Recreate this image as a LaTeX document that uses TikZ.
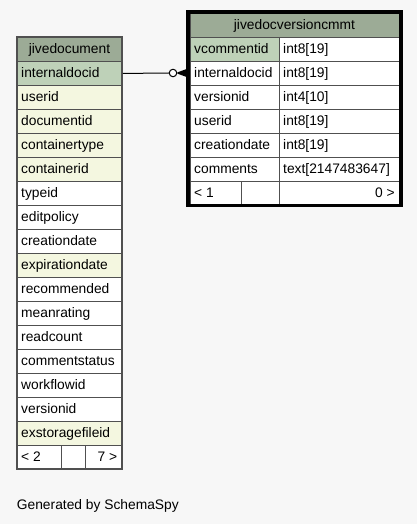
\documentclass[tikz,border=0pt]{standalone}
\usepackage{fontspec}
\setmainfont{Liberation Sans}
\definecolor{bgc}{HTML}{F7F7F7}
\definecolor{hdr}{HTML}{9CAB96}
\definecolor{pkc}{HTML}{BED1B8}
\definecolor{idx}{HTML}{F4F7E0}
\definecolor{bord}{HTML}{505050}
\tikzset{
  cellbox/.style={draw=bord, line width=0.9pt, anchor=north west, inner sep=0pt, minimum height=24pt},
  txt/.style={anchor=base west, inner sep=0pt, font=\fontsize{13.8}{16}\selectfont},
  txtr/.style={anchor=base east, inner sep=0pt, font=\fontsize{13.8}{16}\selectfont},
  txtc/.style={anchor=base, inner sep=0pt, font=\fontsize{13.8}{16}\selectfont},
}
\begin{document}
\begin{tikzpicture}[x=1pt,y=-1pt]
\useasboundingbox (0,0) rectangle (417,524);
\fill[bgc] (0,0) rectangle (417,524);
% ---------- left table: jivedocument ----------
\node[cellbox, fill=hdr, minimum width=105pt] (lh) at (17,37) {};
\node[txtc] (lht) at (69.5,53.3) {jivedocument};
\foreach \name/\col [count=\i from 0] in {internaldocid/pkc, userid/idx, documentid/idx, containertype/idx, containerid/idx, typeid/white, editpolicy/white, creationdate/white, expirationdate/idx, recommended/white, meanrating/white, readcount/white, commentstatus/white, workflowid/white, versionid/white, exstoragefileid/idx}{
  \node[cellbox, fill=\col, minimum width=105pt] (l\i) at (17,61+24*\i) {};
  \node[txt] (lt\i) at (21,77.3+24*\i) {\name};
}
\node[cellbox, fill=white, minimum width=43.5pt] (lf1) at (17,445) {};
\node[cellbox, fill=white, minimum width=24.5pt] (lf2) at (60.5,445) {};
\node[cellbox, fill=white, minimum width=37pt] (lf3) at (85,445) {};
\node[txt] (lft1) at (21,461.3) {< 2};
\node[txtr] (lft3) at (117.5,461.3) {7 >};
\draw[bord, line width=1.2pt] (17,37) rectangle (122,469);
% ---------- right table: jivedocversioncmmt ----------
\node[cellbox, fill=hdr, minimum width=209pt] (rh) at (190,13) {};
\node[txtc] (rht) at (294.5,29.3) {jivedocversioncmmt};
\foreach \name/\typ/\col [count=\i from 0] in {vcommentid/int8[19]/pkc, internaldocid/int8[19]/white, versionid/int4[10]/white, userid/int8[19]/white, creationdate/int8[19]/white, comments/text[2147483647]/white}{
  \node[cellbox, fill=\col, minimum width=89pt] (r\i) at (190,37+24*\i) {};
  \node[cellbox, fill=white, minimum width=120pt] (rt\i) at (279,37+24*\i) {};
  \node[txt] (rn\i) at (194,53.3+24*\i) {\name};
  \node[txt] (ry\i) at (283,53.3+24*\i) {\typ};
}
\node[cellbox, fill=white, minimum width=50.5pt] (rf1) at (190,181) {};
\node[cellbox, fill=white, minimum width=38.5pt] (rf2) at (240.5,181) {};
\node[cellbox, fill=white, minimum width=120pt] (rf3) at (279,181) {};
\node[txt] (rft1) at (194,197.3) {< 1};
\node[txtr] (rft3) at (395,197.3) {0 >};
\draw[black, line width=3.5pt] (188.2,11.8) rectangle (401,205.5);
% ---------- relationship ----------
\coordinate (ca) at (l0.east);
\coordinate (cb) at (187,73);
\node[circle, draw=black, fill=white, line width=1pt, minimum size=7.5pt, inner sep=0pt] (circ) at (173,73) {};
\draw[black, line width=1pt] (ca) -- (circ.west);
\coordinate (foot) at (177.5,73);
\draw[black, line width=1.2pt] (foot) -- (cb) (foot) -- (187,69.5) (foot) -- (187,76.5);
\fill[black] (foot) -- (187,69.5) -- (187,76.5) -- cycle;
% ---------- footer ----------
\node[txt] (gen) at (16.7,509) {Generated by SchemaSpy};
\end{tikzpicture}
\end{document}
